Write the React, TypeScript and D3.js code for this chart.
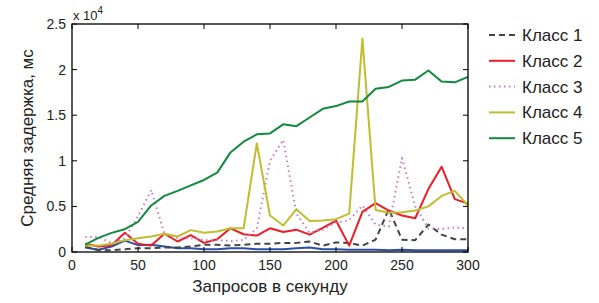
import React from "react";
import * as d3 from "d3";

// requests per second
const rps = [10, 20, 30, 40, 50, 60, 70, 80, 90, 100, 110, 120, 130, 140, 150, 160, 170, 180, 190, 200, 210, 220, 230, 240, 250, 260, 270, 280, 290, 300];

// mean delay, ms
const class1 = [600, 200, 200, 300, 400, 400, 500, 500, 600, 800, 800, 700, 800, 900, 900, 1000, 1000, 1150, 700, 1050, 1000, 700, 1350, 4700, 1350, 1300, 3000, 1900, 1400, 1400];
const class2 = [900, 600, 750, 2100, 900, 700, 2000, 1150, 1850, 1000, 1400, 2600, 1950, 1800, 2600, 2200, 2450, 1900, 2650, 3450, 700, 4400, 5350, 4550, 4000, 3700, 6900, 9350, 5800, 5300];
const class3 = [1650, 1650, 1000, 1500, 3900, 6800, 2000, 1500, 1500, 1300, 1300, 1200, 1300, 2600, 10000, 12300, 4200, 2100, 2450, 3200, 3500, 5100, 3000, 2800, 10300, 5000, 2600, 2500, 2700, 2600];
const class4 = [700, 700, 900, 1300, 1500, 1700, 2000, 1700, 2400, 2100, 2250, 2600, 2600, 11900, 4000, 2900, 4700, 3400, 3450, 3600, 4200, 23400, 4600, 4300, 4350, 4550, 5000, 6150, 6700, 5100];
const class5 = [800, 1550, 2100, 2500, 3300, 5100, 6150, 6700, 7300, 7900, 8700, 10900, 12100, 12900, 13000, 14000, 13800, 14750, 15700, 16000, 16500, 16500, 17900, 18100, 18800, 18900, 19900, 18700, 18600, 19200];
// extra series without a legend entry
const other = [500, 250, 600, 1250, 750, 800, 600, 400, 400, 300, 300, 400, 400, 300, 300, 300, 400, 500, 300, 300, 250, 250, 250, 200, 250, 200, 200, 200, 200, 200];

const xTicks = [0, 50, 100, 150, 200, 250, 300];
const yTicks = [0, 5000, 10000, 15000, 20000, 25000];
const yTickLabels = ["0", "0.5", "1", "1.5", "2", "2.5"];

const series = [
  { name: "", values: other, color: "#2b4fa6", dash: "" },
  { name: "Класс 1", values: class1, color: "#444444", dash: "6,4" },
  { name: "Класс 2", values: class2, color: "#ee1c25", dash: "" },
  { name: "Класс 3", values: class3, color: "#c57bc5", dash: "1.5,3.5" },
  { name: "Класс 4", values: class4, color: "#bebe2e", dash: "" },
  { name: "Класс 5", values: class5, color: "#108a3e", dash: "" },
];

const W = 599;
const H = 303;
const m = { left: 72, right: 131, top: 24, bottom: 51 };
const font = "'Liberation Sans', Arial, sans-serif";

export default function App() {
  const x = d3.scaleLinear().domain([0, 300]).range([m.left, W - m.right]);
  const y = d3.scaleLinear().domain([0, 25000]).range([H - m.bottom, m.top]);
  const line = d3
    .line<number>()
    .x((_, i) => x(rps[i]))
    .y((d) => y(d));

  const [x0, x1] = x.range();
  const [y0, y1] = y.range();
  const tl = 5;
  const legend = series.filter((s) => s.name);

  return (
    <svg
      width={W}
      height={H}
      style={{ position: "absolute", left: 0, top: 0, background: "#fff" }}
      fontFamily={font}
    >
      {series.map((s, i) => (
        <path
          key={i}
          d={line(s.values) || ""}
          fill="none"
          stroke={s.color}
          strokeWidth={2}
          strokeDasharray={s.dash || undefined}
          strokeLinejoin="round"
        />
      ))}

      {/* box + inward ticks */}
      <rect x={x0} y={y1} width={x1 - x0} height={y0 - y1} fill="none" stroke="#000" strokeWidth={1.3} />
      {xTicks.map((t) => (
        <g key={"x" + t}>
          <line x1={x(t)} x2={x(t)} y1={y0} y2={y0 - tl} stroke="#000" />
          <line x1={x(t)} x2={x(t)} y1={y1} y2={y1 + tl} stroke="#000" />
          <text x={x(t)} y={y0 + 18} textAnchor="middle" fontSize={14} fill="#222">
            {t}
          </text>
        </g>
      ))}
      {yTicks.map((t, i) => (
        <g key={"y" + t}>
          <line x1={x0} x2={x0 + tl} y1={y(t)} y2={y(t)} stroke="#000" />
          <line x1={x1} x2={x1 - tl} y1={y(t)} y2={y(t)} stroke="#000" />
          <text x={x0 - 6} y={y(t) + 5} textAnchor="end" fontSize={14} fill="#222">
            {yTickLabels[i]}
          </text>
        </g>
      ))}
      <text x={x0 + 1} y={y1 - 4} fontSize={13} fill="#222">
        x  10
        <tspan dy={-6} fontSize={10}>4</tspan>
      </text>

      <text x={(x0 + x1) / 2} y={292} textAnchor="middle" fontSize={17} fill="#222">
        Запросов в секунду
      </text>
      <text
        transform={`translate(33,${(y0 + y1) / 2}) rotate(-90)`}
        textAnchor="middle"
        fontSize={17}
        fill="#222"
      >
        Средняя задержка, мс
      </text>

      {legend.map((s, i) => {
        const ly = 35 + i * 25.8;
        return (
          <g key={s.name}>
            <line
              x1={489}
              x2={515}
              y1={ly}
              y2={ly}
              stroke={s.color}
              strokeWidth={2}
              strokeDasharray={s.dash || undefined}
            />
            <text x={522} y={ly + 6} fontSize={17} fill="#222">
              {s.name}
            </text>
          </g>
        );
      })}
    </svg>
  );
}
